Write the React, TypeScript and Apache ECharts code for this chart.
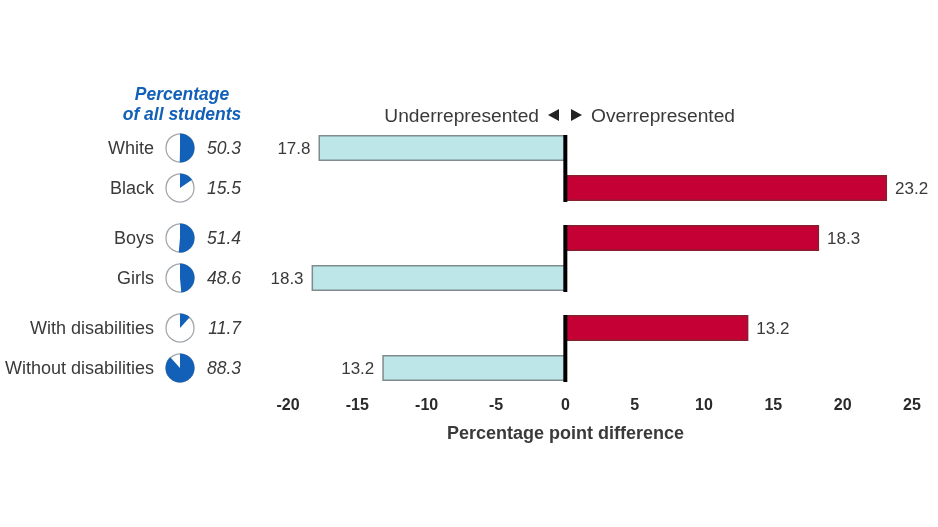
import React, { useEffect, useRef } from "react";
import * as echarts from "echarts";

const groups = [
  ["White", "Black"],
  ["Boys", "Girls"],
  ["With disabilities", "Without disabilities"],
];
const differences = [
  [-17.8, 23.2],
  [18.3, -18.3],
  [13.2, -13.2],
];
const shares = [
  [50.3, 15.5],
  [51.4, 48.6],
  [11.7, 88.3],
];
const ticks = [-20, -15, -10, -5, 0, 5, 10, 15, 20, 25];
const FONT = "'Liberation Sans', Arial, sans-serif";
const BLUE = "#1260b8";
const TEXT = "#3a3a3a";
const LEFT = 288;

function pieGlyph(params: any, api: any) {
  const row = api.value(0);
  const share = api.value(1);
  const [zeroX, cy] = api.coord([0, row]);
  const cx = 180;
  const r = 14;
  return {
    type: "group",
    silent: true,
    children: [
      { type: "circle", shape: { cx, cy, r }, style: { fill: "#fff", stroke: "#a3a8ad", lineWidth: 1.3 } },
      {
        type: "sector",
        shape: { cx, cy, r0: 0, r: r + 0.5, startAngle: -Math.PI / 2, endAngle: -Math.PI / 2 + (share / 100) * Math.PI * 2 },
        style: { fill: BLUE },
      },
      {
        type: "text",
        x: 241,
        y: cy,
        style: {
          text: share.toFixed(1),
          fill: TEXT,
          font: `italic 17.5px ${FONT}`,
          align: "right",
          verticalAlign: "middle",
        },
      },
      {
        type: "rect",
        z2: 10,
        shape: { x: zeroX - 2, y: cy - 13, width: 4, height: row === 0 ? 40 : 27 },
        style: { fill: "#000" },
      },
    ],
  };
}

export default function App() {
  const ref = useRef<HTMLDivElement>(null);
  useEffect(() => {
    const chart = echarts.init(ref.current!, undefined, { renderer: "svg" });
    const tops = [128, 218, 308];
    const grid = tops.map((top) => ({ left: LEFT, width: 624, top, height: 80 }));
    const xAxis = groups.map((_, i) => ({
      gridIndex: i,
      type: "value",
      min: -20,
      max: 25,
      interval: 5,
      show: i === 2,
      name: i === 2 ? "Percentage point difference" : undefined,
      nameLocation: "middle",
      nameGap: 36,
      nameTextStyle: { fontWeight: "bold", fontSize: 18, fontFamily: FONT, color: TEXT, padding: [0, 69, 0, 0] },
      axisLine: { show: false },
      axisTick: { show: false },
      splitLine: { show: false },
      axisLabel: {
        show: i === 2,
        margin: 8,
        fontFamily: FONT,
        fontSize: 16,
        fontWeight: "bold",
        color: "#2a2a2a",
        customValues: ticks,
      },
    }));
    const yAxis = groups.map((cats, i) => ({
      gridIndex: i,
      type: "category",
      inverse: true,
      data: cats,
      position: "left",
      axisLine: { show: false, onZero: false },
      axisTick: { show: false },
      axisLabel: { margin: 134, fontFamily: FONT, fontSize: 18, color: TEXT },
    }));
    const bars = groups.map((_, i) => ({
      type: "bar",
      xAxisIndex: i,
      yAxisIndex: i,
      barWidth: 26,
      data: differences[i].map((v) => ({
        value: v,
        itemStyle: {
          color: v < 0 ? "#bce6e8" : "#c40034",
          borderColor: v < 0 ? "#7f8b8d" : "#86202f",
          borderWidth: 1.5,
        },
        label: { position: v < 0 ? "left" : "right" },
      })),
      label: {
        show: true,
        distance: 8,
        fontFamily: FONT,
        fontSize: 17,
        color: TEXT,
        formatter: (p: any) => Math.abs(p.value).toFixed(1),
      },
      z: 2,
    }));
    const glyphs = groups.map((_, i) => ({
      type: "custom",
      xAxisIndex: i,
      yAxisIndex: i,
      coordinateSystem: "cartesian2d",
      clip: false,
      silent: true,
      encode: { x: 1, y: 0 },
      data: shares[i].map((s, row) => [row, s]),
      renderItem: pieGlyph,
      z: 3,
    }));
    chart.setOption({
      animation: false,
      backgroundColor: "#fff",
      grid,
      xAxis,
      yAxis,
      series: [...bars, ...glyphs],
      graphic: [
        {
          type: "text",
          x: 182,
          y: 94,
          style: { text: "Percentage", fill: BLUE, font: `italic bold 17.5px ${FONT}`, align: "center", verticalAlign: "middle" },
        },
        {
          type: "text",
          x: 182,
          y: 114,
          style: { text: "of all students", fill: BLUE, font: `italic bold 17.5px ${FONT}`, align: "center", verticalAlign: "middle" },
        },
        {
          type: "text",
          x: 539,
          y: 115,
          style: { text: "Underrepresented", fill: TEXT, font: `19.2px ${FONT}`, align: "right", verticalAlign: "middle" },
        },
        {
          type: "text",
          x: 591,
          y: 115,
          style: { text: "Overrepresented", fill: TEXT, font: `19.2px ${FONT}`, align: "left", verticalAlign: "middle" },
        },
        { type: "polygon", shape: { points: [[548, 115], [559, 109], [559, 121]] }, style: { fill: "#222" } },
        { type: "polygon", shape: { points: [[582, 115], [571, 109], [571, 121]] }, style: { fill: "#222" } },
      ],
    });
    return () => chart.dispose();
  }, []);
  return <div ref={ref} style={{ position: "absolute", left: 0, top: 0, width: 938, height: 527, filter: "blur(0.5px)" }} />;
}
